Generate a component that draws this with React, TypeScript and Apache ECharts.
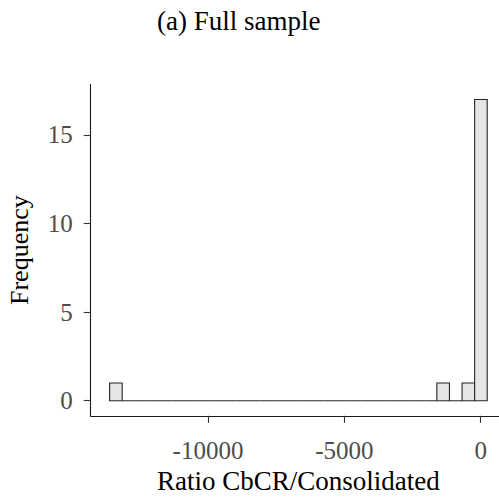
import React, { useEffect, useRef } from "react";
import * as echarts from "echarts";

// Histogram (30 bins, equal width)
const firstBinCenter = -13376;
const binWidth = 461.5;
const counts = [1, 0, 0, 0, 0, 0, 0, 0, 0, 0, 0, 0, 0, 0, 0, 0, 0, 0, 0, 0, 0, 0, 0, 0, 0, 0, 1, 0, 1, 17];
const xTicks = [-10000, -5000, 0];
const yTicks = [0, 5, 10, 15];
const xRange = [-14299, 923];
const yRange = [-0.85, 17.85];

const titleText = "(a) Full sample";
const xTitle = "Ratio CbCR/Consolidated";
const yTitle = "Frequency";

const FONT = "'Liberation Serif', 'DejaVu Serif', serif";

export default function App() {
  const ref = useRef<HTMLDivElement>(null);
  useEffect(() => {
    if (!ref.current) return;
    const chart = echarts.init(ref.current, undefined, { renderer: "svg" });
    const data = counts.map((c, i) => [
      firstBinCenter + (i - 0.5) * binWidth,
      firstBinCenter + (i + 0.5) * binWidth,
      c,
    ]);
    chart.setOption({
      animation: false,
      backgroundColor: "#ffffff",
      grid: {
        left: 90.7,
        top: 84.5,
        width: 415.2,
        height: 331.3,
        containLabel: false,
        outerBoundsMode: "none",
      },
      graphic: [
        {
          type: "text",
          x: 238.8,
          y: 21,
          style: {
            text: titleText,
            font: `27px ${FONT}`,
            fill: "#000",
            textAlign: "center",
            textVerticalAlign: "middle",
          },
        },
      ],
      xAxis: {
        type: "value",
        min: xRange[0],
        max: xRange[1],
        name: xTitle,
        nameLocation: "middle",
        nameGap: 44,
        nameTextStyle: { fontFamily: FONT, fontSize: 27, color: "#000" },
        splitLine: { show: false },
        axisLine: { onZero: false, lineStyle: { color: "#1a1a1a", width: 1.1 } },
        axisTick: {
          show: true,
          length: 7,
          customValues: xTicks,
          lineStyle: { color: "#333", width: 1.1 },
        },
        axisLabel: {
          customValues: xTicks,
          margin: 22,
          fontFamily: FONT,
          fontSize: 25,
          color: "#4d4d4d",
          formatter: (v: number) => String(v),
        },
      },
      yAxis: {
        type: "value",
        min: yRange[0],
        max: yRange[1],
        name: yTitle,
        nameLocation: "middle",
        nameGap: 58,
        nameRotate: 90,
        nameTextStyle: { fontFamily: FONT, fontSize: 26, color: "#000" },
        splitLine: { show: false },
        axisLine: { show: true, onZero: false, lineStyle: { color: "#1a1a1a", width: 1.1 } },
        axisTick: {
          show: true,
          length: 7,
          customValues: yTicks,
          lineStyle: { color: "#333", width: 1.1 },
        },
        axisLabel: {
          customValues: yTicks,
          margin: 18,
          fontFamily: FONT,
          fontSize: 25,
          color: "#4d4d4d",
        },
      },
      series: [
        {
          type: "custom",
          encode: { x: [0, 1], y: 2 },
          data,
          renderItem: (params: any, api: any) => {
            const p0 = api.coord([api.value(0), api.value(2)]);
            const p1 = api.coord([api.value(1), 0]);
            return {
              type: "rect",
              shape: { x: p0[0], y: p0[1], width: p1[0] - p0[0], height: p1[1] - p0[1] },
              style: { fill: "#e5e5e5", stroke: "#262626", lineWidth: 1.1 },
            };
          },
        },
      ],
    });
    return () => chart.dispose();
  }, []);
  return (
    <div style={{ position: "fixed", left: 0, top: 0, width: 499, height: 503, overflow: "hidden", background: "#fff" }}>
      <div ref={ref} style={{ width: 507, height: 503 }} />
    </div>
  );
}
